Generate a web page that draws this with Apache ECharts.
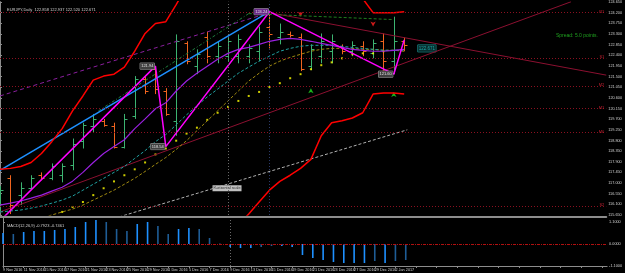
<!DOCTYPE html>
<html><head><meta charset="utf-8">
<script src="https://cdn.jsdelivr.net/npm/echarts@6/dist/echarts.min.js"></script>
<style>html,body{margin:0;padding:0;background:#000;overflow:hidden}#c{width:625px;height:273px}</style>
</head><body><div id="c"></div>
<script>
// ---- data ----
const dates = ['9 Nov 2016','10 Nov 2016','11 Nov 2016','14 Nov 2016','15 Nov 2016','16 Nov 2016','17 Nov 2016','18 Nov 2016','21 Nov 2016','22 Nov 2016','23 Nov 2016','24 Nov 2016','25 Nov 2016','28 Nov 2016','29 Nov 2016','30 Nov 2016','1 Dec 2016','2 Dec 2016','5 Dec 2016','6 Dec 2016','7 Dec 2016','8 Dec 2016','9 Dec 2016','12 Dec 2016','13 Dec 2016','14 Dec 2016','15 Dec 2016','16 Dec 2016','19 Dec 2016','20 Dec 2016','21 Dec 2016','22 Dec 2016','23 Dec 2016','26 Dec 2016','27 Dec 2016','28 Dec 2016','29 Dec 2016','30 Dec 2016','2 Jan 2017','3 Jan 2017'];
const openP  = [115.99,117.20,116.49,116.78,117.33,117.20,117.33,117.75,118.79,119.42,119.63,119.42,118.54,119.84,121.39,121.81,120.89,119.63,122.90,121.94,123.19,122.36,122.36,122.36,122.36,122.57,123.61,123.19,123.28,123.19,121.94,122.36,122.57,122.80,122.57,122.80,122.48,122.99,122.15,122.99];
const highP  = [116.87,117.33,117.03,117.33,117.45,117.83,117.83,118.88,119.55,119.92,119.71,119.55,119.92,121.52,121.52,121.94,121.01,123.28,122.99,122.65,123.40,122.99,123.19,123.28,122.86,123.61,124.24,123.74,123.40,123.32,122.86,123.32,123.28,122.86,122.99,122.99,123.07,123.32,124.03,123.15];
const lowP   = [115.73,115.69,116.07,116.70,117.12,117.12,117.03,117.54,118.46,119.13,119.38,118.46,118.46,119.71,120.76,120.76,119.84,119.00,122.02,121.60,122.06,122.06,122.15,122.06,122.06,122.15,122.69,122.86,123.15,121.73,121.77,122.06,122.06,122.44,122.36,122.36,122.27,121.56,121.60,122.57];
const closeP = [116.70,116.07,116.78,117.20,117.20,117.70,117.70,118.67,119.46,119.71,119.46,118.54,119.71,121.39,120.89,120.97,119.92,122.99,122.15,122.44,122.36,122.80,122.99,123.07,122.69,123.40,123.28,123.40,123.24,121.81,122.65,122.99,122.99,122.57,122.82,122.57,122.90,122.15,122.99,122.84];
const maFast = [116.07,116.15,116.24,116.36,116.49,116.66,116.82,117.08,117.45,117.87,118.25,118.54,118.83,119.30,119.71,120.14,120.39,120.89,121.31,121.64,121.94,122.23,122.48,122.65,122.73,122.86,122.99,123.07,123.11,123.07,122.99,122.90,122.82,122.73,122.65,122.61,122.57,122.57,122.61,122.65];
const maMid  = [115.78,115.82,115.86,115.94,116.03,116.15,116.28,116.45,116.70,116.95,117.20,117.45,117.70,118.04,118.37,118.75,119.05,119.46,119.88,120.26,120.64,120.97,121.31,121.64,121.90,122.15,122.36,122.57,122.69,122.78,122.82,122.82,122.82,122.78,122.73,122.69,122.65,122.61,122.61,122.61];
const maSlow = [115.11,115.19,115.27,115.40,115.52,115.65,115.78,115.90,116.07,116.28,116.49,116.70,116.95,117.20,117.49,117.79,118.08,118.42,118.79,119.21,119.63,120.05,120.47,120.89,121.31,121.64,121.94,122.15,122.31,122.44,122.57,122.65,122.69,122.69,122.69,122.65,122.65,122.61,122.61,122.57];
const bandUpper = [117.58,117.62,117.70,117.87,118.25,118.75,119.30,120.05,120.68,121.35,121.52,121.60,121.90,122.57,123.32,123.74,123.82,124.54,125.30,125.71,126.13,126.34,126.55,126.76,126.76,126.97,127.18,127.18,126.97,126.76,126.55,126.34,126.13,125.71,125.30,124.79,124.20,124.20,124.20,124.24];
const bandLower = [111.10,111.30,111.50,111.70,111.90,112.10,112.30,112.50,112.70,112.90,113.10,113.30,113.50,113.70,113.90,114.10,114.30,114.50,114.70,114.90,115.00,115.10,115.20,115.25,115.69,116.20,116.70,117.07,117.33,117.62,118.00,119.00,119.55,119.63,119.75,119.97,120.76,120.80,120.80,120.76];
const sarP = [null,null,null,null,null,null,115.78,115.99,116.20,116.49,116.78,117.07,117.33,117.58,117.87,118.21,118.46,118.79,119.09,119.34,119.67,119.97,120.22,120.47,120.68,120.85,121.06,121.22,121.43,121.60,121.81,121.98,122.10,122.27,122.44,122.48,122.48,122.57,null,null];
const histVals = [0.55,0.50,0.60,0.65,0.65,0.70,0.75,0.85,1.10,1.20,1.10,0.75,0.65,1.00,1.10,0.90,0.50,0.75,0.80,0.75,0.30,0.03,-0.15,-0.20,-0.20,-0.15,-0.10,-0.10,-0.15,-0.55,-0.70,-0.80,-0.90,-0.95,-0.95,-0.95,-0.85,-0.95,-0.85,-0.80];
const zigzag = [[0,115.40],[15,121.94],[16,118.54],[26,124.24],[38,121.60],[39,123.05]];
const zigLabels = {15:'121.94',16:'118.54',26:'124.24',38:'121.60'};
const pivotPrices = [124.20,122.27,121.10,120.14,119.13,116.03];
const pivotNames  = ['R1','S1','M2','M1','M0','S2'];
const trendBlue   = [[0,117.54],[26,124.24]];
const trendViolet = [[0,120.68],[26,124.20]];
const trendDown   = [[26,124.20],[58.5,121.56]];
const trendUp     = [[0,115.78],[55.1,124.66]];
const trendGray   = [[11.5,115.57],[39.3,119.25]];
const trendGreen  = [[9.5,120.05],[24,124.16]];
const trendGreenH = [[24,124.16],[37.8,123.91]];
const arrowsDown = [[29,124.03],[36,123.61]];
const arrowsUp   = [[30,121.01],[38,120.85]];
const vLines = [22, 26];
const currentPrice = 122.84;

// ---- chart ----
const UP='#3cb371', DOWN='#f0641e';
const FONT='Liberation Sans';
const chart = echarts.init(document.getElementById('c'), null, {renderer:'canvas'});
const fs = 3.8;
const ohlc = dates.map((d,i)=>[i,openP[i],highP[i],lowP[i],closeP[i]]);
const idx = a => a.map((v,i)=>[i,v]);

chart.setOption({
  backgroundColor:'#000',
  animation:false,
  title:[
    {text:'EURJPY,Daily  122.858 122.937 122.520 122.671', left:2, top:3, textStyle:{color:'#d0d0d0',fontSize:4,fontWeight:'normal',fontFamily:FONT}},
    {text:'MACD(12,26,9) -0.7923 -0.7461', left:2, top:219, textStyle:{color:'#d0d0d0',fontSize:4,fontWeight:'normal',fontFamily:FONT}},
    {text:'Spread: 5.0 points.', left:551, top:28, textStyle:{color:'#1fa01f',fontSize:5,fontWeight:'normal',fontFamily:FONT}}
  ],
  grid:[{left:0,right:14,top:0,height:215},{left:0,right:14,top:218,height:48}],
  xAxis:[
    {type:'value',gridIndex:0,min:0,max:58.5,axisLabel:{show:false},axisTick:{show:false},splitLine:{show:false},
     axisLine:{show:true,onZero:false,lineStyle:{color:'#8c8c8c',width:2}},offset:1.5},
    {type:'value',gridIndex:1,min:0,max:58.5,interval:2,splitLine:{show:false},
     axisLine:{show:true,onZero:false,lineStyle:{color:'#8c8c8c',width:1}},
     axisTick:{show:true,length:2,lineStyle:{color:'#8c8c8c'}},
     axisLabel:{show:true,showMinLabel:true,showMaxLabel:false,color:'#d0d0d0',fontSize:fs,margin:2,align:'left',fontFamily:FONT,
       formatter:v=>{const i=Math.round(v);return (i<dates.length)?dates[i]:'';}}}
  ],
  yAxis:[
    {type:'value',gridIndex:0,position:'right',min:115.65,max:124.661,interval:0.45,
     splitLine:{show:false},axisLine:{show:true,lineStyle:{color:'#8c8c8c'}},
     axisTick:{show:true,length:2,lineStyle:{color:'#8c8c8c'}},
     axisLabel:{color:'#d0d0d0',fontSize:fs,margin:2,showMaxLabel:false,fontFamily:FONT,formatter:v=>v.toFixed(3)}},
    {type:'value',gridIndex:1,position:'right',min:-1.1,max:1.3,interval:1.1,
     splitLine:{show:false},axisLine:{show:true,lineStyle:{color:'#8c8c8c'}},
     axisTick:{show:true,length:2,lineStyle:{color:'#8c8c8c'}},
     axisLabel:{color:'#d0d0d0',fontSize:fs,margin:2,showMaxLabel:false,fontFamily:FONT,formatter:v=>v.toFixed(4)}}
  ],
  series:[
    {type:'line',xAxisIndex:0,yAxisIndex:0,data:[],silent:true,
     markLine:{symbol:'none',silent:true,
       data:pivotPrices.map((p,k)=>({yAxis:p,lineStyle:{color:'#8b1020',type:[1,2],width:1},
          label:{show:true,position:'insideEndTop',distance:[2,-1],formatter:pivotNames[k],color:'#c02030',fontSize:4,fontFamily:FONT}}))
         .concat(vLines.map((v,k)=>({xAxis:v,lineStyle:{color:k?'#2a3a6a':'#6a6a6a',type:[1,2],width:1},label:{show:false}})))
         .concat([{yAxis:currentPrice,lineStyle:{opacity:0},label:{show:true,position:'end',distance:1,formatter:currentPrice.toFixed(3),color:'#000',backgroundColor:'#e8e8e8',fontSize:fs,fontFamily:FONT,padding:[1,1]}}])}},
    {type:'line',data:trendUp,showSymbol:false,silent:true,lineStyle:{color:'#8b1030',width:1}},
    {type:'line',data:trendDown,showSymbol:false,silent:true,lineStyle:{color:'#8b1030',width:1}},
    {type:'line',data:trendGray,showSymbol:false,silent:true,lineStyle:{color:'#b0b0b0',width:1,type:[3,2]}},
    {type:'line',data:trendGreen,showSymbol:false,silent:true,lineStyle:{color:'#1f7f3f',width:1,type:[3,2,1,2]}},
    {type:'line',data:trendGreenH,showSymbol:false,silent:true,lineStyle:{color:'#1f7f1f',width:1,type:[3,2]}},
    {type:'line',data:trendViolet,showSymbol:false,silent:true,lineStyle:{color:'#8b1f9f',width:1,type:[4,3]}},
    {type:'line',data:trendBlue,showSymbol:false,silent:true,lineStyle:{color:'#1e90ff',width:1.5}},
    {type:'line',data:idx(maSlow),showSymbol:false,silent:true,lineStyle:{color:'#a08a10',width:1,type:[3,2]}},
    {type:'line',data:idx(maMid),showSymbol:false,silent:true,lineStyle:{color:'#20a0a0',width:1,type:[3,2]}},
    {type:'line',data:idx(maFast),showSymbol:false,silent:true,lineStyle:{color:'#9a20e0',width:1.2}},
    {type:'line',data:idx(bandUpper),showSymbol:false,silent:true,lineStyle:{color:'#ff0000',width:1.5}},
    {type:'line',data:idx(bandLower),showSymbol:false,silent:true,lineStyle:{color:'#ff0000',width:1.5}},
    {type:'scatter',data:idx(sarP).filter(d=>d[1]!==null),symbol:'rect',symbolSize:2,silent:true,itemStyle:{color:'#ffff00'}},
    {type:'custom',clip:true,data:ohlc,silent:true,
     renderItem:(params,api)=>{
       const i=api.value(0);
       const o=api.coord([i,api.value(1)]),h=api.coord([i,api.value(2)]),l=api.coord([i,api.value(3)]),c=api.coord([i,api.value(4)]);
       const col=api.value(4)>=api.value(1)?UP:DOWN;
       const x=Math.round(o[0])+0.5;
       return {type:'group',children:[
         {type:'line',shape:{x1:x,y1:h[1],x2:x,y2:l[1]},style:{stroke:col,lineWidth:1}},
         {type:'line',shape:{x1:x-3,y1:Math.round(o[1])+0.5,x2:x,y2:Math.round(o[1])+0.5},style:{stroke:col,lineWidth:1}},
         {type:'line',shape:{x1:x,y1:Math.round(c[1])+0.5,x2:x+3,y2:Math.round(c[1])+0.5},style:{stroke:col,lineWidth:1}}
       ]};
     }},
    {type:'line',data:zigzag,showSymbol:false,silent:true,lineStyle:{color:'#ff00ff',width:1.5},
     markPoint:{symbol:'rect',symbolSize:0.1,silent:true,
       data:Object.keys(zigLabels).map(k=>({coord:[Number(k),zigzag.find(z=>z[0]==k)[1]],
         label:{show:true,position:'left',distance:1,formatter:zigLabels[k],color:'#e0e0e0',fontSize:4,fontFamily:FONT,
           backgroundColor:Number(k)===26?'#6a2a8a':'#404040',borderColor:'#a0a0a0',borderWidth:0.5,padding:[1,1]}}))}},
    {type:'scatter',data:arrowsDown,symbol:'arrow',symbolRotate:180,symbolSize:[4,5],silent:true,itemStyle:{color:'#ff2020'}},
    {type:'scatter',data:arrowsUp,symbol:'arrow',symbolSize:[4,5],silent:true,itemStyle:{color:'#20e020'}},
    {type:'scatter',data:[[40.3,122.69]],symbolSize:0.1,silent:true,
     label:{show:true,position:'right',distance:0,formatter:'122.671',color:'#20c0c0',backgroundColor:'#0a3a3a',borderColor:'#20a0a0',borderWidth:0.5,fontSize:4.5,fontFamily:FONT,padding:[1,1]}},
    {type:'scatter',data:[[20.5,116.78]],symbolSize:0.1,silent:true,
     label:{show:true,position:'right',distance:0,formatter:'Horizontal scale',color:'#000',backgroundColor:'#f0f0f0',fontSize:3.8,fontFamily:FONT,padding:[1,1]}},
    {type:'bar',xAxisIndex:1,yAxisIndex:1,barWidth:1.6,silent:true,
     data:histVals.map((v,i)=>({value:[i,v],itemStyle:{color:(i>0&&Math.abs(v)<Math.abs(histVals[i-1]))?'#1f5d96':'#1e90ff'}})),
     markLine:{symbol:'none',silent:true,data:[{yAxis:0,lineStyle:{color:'#b01010',type:[3,1,1,1],width:1},label:{show:false}},
        {xAxis:22,lineStyle:{color:'#6a6a6a',type:[1,2],width:1},label:{show:false}}]}}
  ]
});
</script></body></html>
